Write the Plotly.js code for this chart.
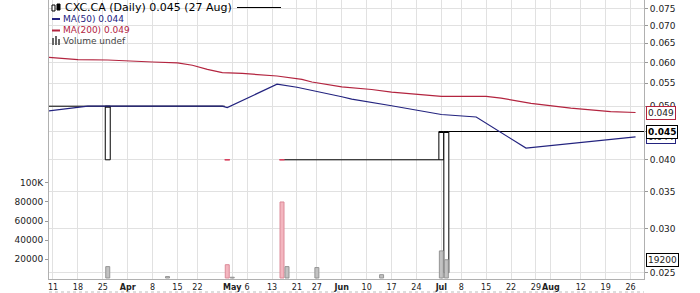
<!DOCTYPE html>
<html><head><meta charset="utf-8">
<script src="https://cdn.plot.ly/plotly-3.0.1.min.js"></script>
<style>html,body{margin:0;padding:0;background:#fff;}#chart{width:700px;height:293px;}</style>
</head><body><div id="chart"></div>
<script>
const symbol = 'CXC.CA';
const lastDate = '2019-08-27';
const holidays = ['2019-04-19', '2019-05-20', '2019-07-01', '2019-08-05'];

// sessions with a visible candle
const candleDates = ['2019-03-26', '2019-04-30', '2019-05-15', '2019-07-02', '2019-07-03'];
const candleOpen  = [0.040, 0.040, 0.040, 0.040, 0.025];
const candleHigh  = [0.050, 0.040, 0.040, 0.045, 0.045];
const candleLow   = [0.040, 0.040, 0.040, 0.040, 0.025];
const candleClose = [0.050, 0.040, 0.040, 0.045, 0.045];

// runs of unchanged price (no-trade sessions)
const flatStart = ['2019-03-08', '2019-05-16', '2019-07-04'];
const flatEnd   = ['2019-04-29', '2019-06-28', '2019-08-27'];
const flatClose = [0.050, 0.040, 0.045];

// volume
const volDates  = ['2019-03-26', '2019-04-11', '2019-04-30', '2019-05-01', '2019-05-15', '2019-05-16', '2019-05-27', '2019-06-13', '2019-07-02', '2019-07-03'];
const volValues = [12000, 1500, 14000, 800, 80000, 12000, 11000, 3500, 28500, 19200];
const volDown   = [false, false, true, false, true, false, false, false, false, false];

// moving averages
const ma50Dates  = ['2019-03-08', '2019-03-20', '2019-04-29', '2019-04-30', '2019-05-14', '2019-05-21', '2019-06-03', '2019-06-05', '2019-06-17', '2019-06-28', '2019-07-02', '2019-07-11', '2019-07-25', '2019-08-27'];
const ma50Values = [0.0490, 0.0500, 0.0500, 0.0497, 0.0548, 0.0541, 0.0520, 0.0515, 0.0501, 0.0484, 0.0483, 0.0478, 0.0420, 0.0440];

const ma200Dates  = ['2019-03-08', '2019-03-18', '2019-03-26', '2019-04-01', '2019-04-08', '2019-04-15', '2019-04-18', '2019-04-24', '2019-04-29', '2019-05-03', '2019-05-14', '2019-05-22', '2019-05-24', '2019-06-03', '2019-06-11', '2019-06-17', '2019-06-28', '2019-07-02', '2019-07-15', '2019-07-18', '2019-07-26', '2019-08-08', '2019-08-20', '2019-08-27'];
const ma200Values = [0.0613, 0.0607, 0.0606, 0.0603, 0.0601, 0.0599, 0.0593, 0.0583, 0.0575, 0.0573, 0.0567, 0.0559, 0.0553, 0.0542, 0.0536, 0.0530, 0.0522, 0.0521, 0.0521, 0.0517, 0.0506, 0.0496, 0.0489, 0.0487];

// axis ticks
const xTickDates = ['2019-03-11', '2019-03-18', '2019-03-25', '2019-04-01', '2019-04-08', '2019-04-15', '2019-04-22', '2019-05-01', '2019-05-06', '2019-05-13', '2019-05-21', '2019-05-27', '2019-06-03', '2019-06-10', '2019-06-17', '2019-06-24', '2019-07-02', '2019-07-08', '2019-07-15', '2019-07-22', '2019-07-29', '2019-08-01', '2019-08-12', '2019-08-19', '2019-08-26'];
const xTickText = ['11', '18', '25', '<b>Apr</b>', '8', '15', '22', '<b>May</b>', '6', '13', '21', '27', '<b>Jun</b>', '10', '17', '24', '<b>Jul</b>', '8', '15', '22', '29', '<b>Aug</b>', '12', '19', '26'];
const priceTicks = [0.025, 0.030, 0.035, 0.040, 0.045, 0.050, 0.055, 0.060, 0.065, 0.070, 0.075];
const volTicks = [20000, 40000, 60000, 80000, 100000];
const volTickText = ['20000', '40000', '60000', '80000', '100K'];

// ---------- build ----------
const noon = d => d + ' 12:00';
const xRange = ['2019-03-08 16:48', '2019-08-29 04:48'];

const NAVY = '#23237f', CRIMSON = '#b3243f';
const traces = [];

// flat price runs, drawn across whole sessions
flatStart.forEach((s, i) => {
  const isLast = i === flatStart.length - 1;
  traces.push({
    type: 'scatter', mode: 'lines', x: [s + ' 00:00:01', isLast ? xRange[1] : flatEnd[i] + ' 23:59:59'],
    y: [flatClose[i], flatClose[i]], line: {color: '#000', width: 1}, hoverinfo: 'skip', xaxis: 'x', yaxis: 'y'
  });
});

traces.push({
  type: 'scatter', mode: 'lines', x: ma200Dates.map(noon), y: ma200Values,
  line: {color: CRIMSON, width: 1.2}, hoverinfo: 'skip', xaxis: 'x', yaxis: 'y'
});
traces.push({
  type: 'scatter', mode: 'lines', x: ma50Dates.map(noon), y: ma50Values,
  line: {color: NAVY, width: 1.2}, hoverinfo: 'skip', xaxis: 'x', yaxis: 'y'
});

traces.push({
  type: 'candlestick', x: candleDates.map(noon), open: candleOpen, high: candleHigh, low: candleLow, close: candleClose,
  increasing: {line: {color: '#000', width: 1}, fillcolor: '#fff'},
  decreasing: {line: {color: '#d8405e', width: 1}, fillcolor: '#d8405e'},
  whiskerwidth: 0, hoverinfo: 'skip', xaxis: 'x', yaxis: 'y'
});

traces.push({
  type: 'bar', x: volDates.map(noon), y: volValues, width: 0.8 * 86400000,
  marker: {color: volDown.map(d => d ? '#f3b6bf' : '#c2c2c2'), line: {color: volDown.map(d => d ? '#dc8a98' : '#959595'), width: 1}},
  hoverinfo: 'skip', xaxis: 'x', yaxis: 'y2'
});

// ---------- layout helpers ----------
const L = 49, R = 644, H = 279;
const px = v => (v - L) / (R - L);
const py = v => 1 - v / H;

const lastClose = flatClose[flatClose.length - 1];
const lastMA50 = ma50Values[ma50Values.length - 1];
const lastMA200 = ma200Values[ma200Values.length - 1];
const lastVol = volValues[volValues.length - 1];
const months = ['Jan','Feb','Mar','Apr','May','Jun','Jul','Aug','Sep','Oct','Nov','Dec'];
const ld = new Date(lastDate + 'T00:00:00Z');
const lastLabel = ld.getUTCDate() + ' ' + months[ld.getUTCMonth()];

const legendFont = {family: 'DejaVu Sans', size: 9};
const tagFont = {family: 'DejaVu Sans', size: 9, color: '#222'};
const annotations = [
  {xref: 'paper', yref: 'paper', x: px(64), y: py(7.5), xanchor: 'left', yanchor: 'middle', showarrow: false, borderpad: 0,
   text: `${symbol} (Daily) ${lastClose.toFixed(3)} (${lastLabel})`, font: {family: 'DejaVu Sans', size: 11, color: '#000'}},
  {xref: 'paper', yref: 'paper', x: px(62), y: py(19), xanchor: 'left', yanchor: 'middle', showarrow: false, borderpad: 0,
   text: `MA(50) ${lastMA50.toFixed(3)}`, font: Object.assign({color: NAVY}, legendFont)},
  {xref: 'paper', yref: 'paper', x: px(62), y: py(30.5), xanchor: 'left', yanchor: 'middle', showarrow: false, borderpad: 0,
   text: `MA(200) ${lastMA200.toFixed(3)}`, font: Object.assign({color: CRIMSON}, legendFont)},
  {xref: 'paper', yref: 'paper', x: px(62), y: py(41), xanchor: 'left', yanchor: 'middle', showarrow: false, borderpad: 0,
   text: 'Volume undef', font: Object.assign({color: '#444'}, legendFont)},
  // right-side value tags
  {xref: 'paper', yref: 'y', x: 1, y: Math.log10(lastMA50), xanchor: 'left', yanchor: 'middle', xshift: 2, showarrow: false,
   text: lastMA50.toFixed(3), bgcolor: '#fff', bordercolor: NAVY, borderwidth: 1, borderpad: 1, font: tagFont},
  {xref: 'paper', yref: 'y', x: 1, y: Math.log10(lastMA200), xanchor: 'left', yanchor: 'middle', xshift: 2, showarrow: false,
   text: lastMA200.toFixed(3), bgcolor: '#fff', bordercolor: CRIMSON, borderwidth: 1, borderpad: 1, font: tagFont},
  {xref: 'paper', yref: 'y', x: 1, y: Math.log10(lastClose), xanchor: 'left', yanchor: 'middle', xshift: 2, showarrow: false,
   text: '<b>' + lastClose.toFixed(3) + '</b>', bgcolor: '#fff', bordercolor: '#000', borderwidth: 1, borderpad: 1, font: {family: 'DejaVu Sans', size: 9, color: '#000'}},
  {xref: 'paper', yref: 'y2', x: 1, y: lastVol, xanchor: 'left', yanchor: 'middle', xshift: 2, showarrow: false,
   text: String(lastVol), bgcolor: '#fff', bordercolor: '#000', borderwidth: 1, borderpad: 1, font: tagFont}
];

const shapes = [
  // legend decorations
  {type: 'line', xref: 'paper', yref: 'paper', x0: px(237), x1: px(281), y0: py(7.5), y1: py(7.5), line: {color: '#000', width: 1}},
  {type: 'rect', xref: 'paper', yref: 'paper', x0: px(52), x1: px(55), y0: py(11), y1: py(5), line: {color: '#000', width: 1}, fillcolor: '#fff'},
  {type: 'rect', xref: 'paper', yref: 'paper', x0: px(57), x1: px(60), y0: py(10), y1: py(4), line: {color: '#000', width: 1}, fillcolor: '#000'},
  {type: 'line', xref: 'paper', yref: 'paper', x0: px(52), x1: px(60), y0: py(19), y1: py(19), line: {color: NAVY, width: 2}},
  {type: 'line', xref: 'paper', yref: 'paper', x0: px(52), x1: px(60), y0: py(30.5), y1: py(30.5), line: {color: CRIMSON, width: 2}},
  {type: 'rect', xref: 'paper', yref: 'paper', x0: px(52), x1: px(54), y0: py(45), y1: py(38), line: {width: 0}, fillcolor: '#666'},
  {type: 'rect', xref: 'paper', yref: 'paper', x0: px(55), x1: px(57), y0: py(45), y1: py(36), line: {width: 0}, fillcolor: '#666'},
  {type: 'rect', xref: 'paper', yref: 'paper', x0: px(58), x1: px(60), y0: py(45), y1: py(39), line: {width: 0}, fillcolor: '#666'},
  // dotted rule under the date labels
  {type: 'line', xref: 'paper', yref: 'paper', x0: px(49), x1: px(644), y0: py(292), y1: py(292), line: {color: '#bbb', width: 1, dash: 'dot'}}
];

const layout = {
  width: 700, height: 293,
  margin: {l: L, r: 700 - R, t: 0, b: 293 - H, pad: 0},
  paper_bgcolor: '#fff', plot_bgcolor: '#fff',
  showlegend: false, boxgap: 0, boxgroupgap: 0, bargap: 0,
  font: {family: 'DejaVu Sans', size: 9, color: '#222'},
  xaxis: {
    type: 'date', range: xRange,
    rangebreaks: [{bounds: ['sat', 'mon']}, {values: holidays}],
    rangeslider: {visible: false},
    tickmode: 'array', tickvals: xTickDates.map(noon), ticktext: xTickText, tickangle: 0,
    tickfont: {family: 'DejaVu Sans', size: 8, color: '#222'},
    showgrid: true, gridcolor: '#e1e1e1', gridwidth: 1,
    showline: true, linecolor: '#b0b0b0', ticks: '', zeroline: false, automargin: false, fixedrange: true
  },
  yaxis: {
    type: 'log', side: 'right', range: [-1.6135, -1.1090],
    tickmode: 'array', tickvals: priceTicks, ticktext: priceTicks.map(v => v.toFixed(3)),
    ticks: 'outside', ticklen: 3, tickcolor: '#999',
    tickfont: {family: 'DejaVu Sans', size: 9, color: '#222'},
    showgrid: true, gridcolor: '#e1e1e1', gridwidth: 1,
    showline: true, linecolor: '#b0b0b0', zeroline: false, automargin: false, fixedrange: true
  },
  yaxis2: {
    overlaying: 'y', side: 'left', range: [-1050, 292600],
    tickmode: 'array', tickvals: volTicks, ticktext: volTickText,
    ticks: 'outside', ticklen: 3, tickcolor: '#999',
    tickfont: {family: 'DejaVu Sans', size: 9, color: '#222'},
    showgrid: false, showline: true, linecolor: '#b0b0b0', zeroline: false, automargin: false, fixedrange: true
  },
  annotations: annotations,
  shapes: shapes
};

Plotly.newPlot('chart', traces, layout, {displayModeBar: false, staticPlot: true});
</script>
</body></html>
